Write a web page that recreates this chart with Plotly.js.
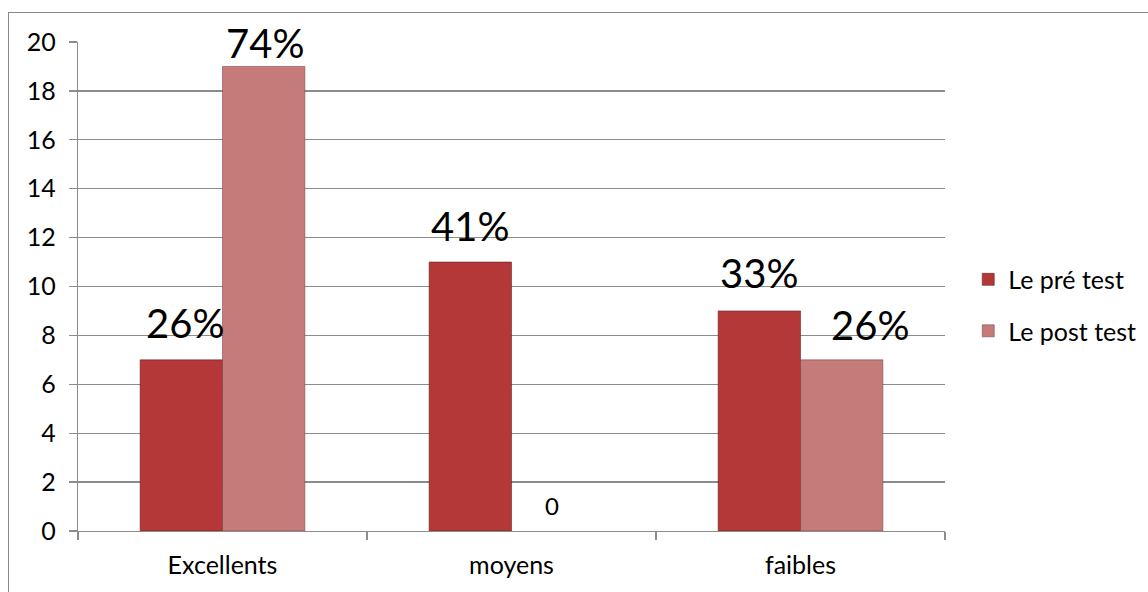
<!DOCTYPE html>
<html>
<head>
<meta charset="utf-8">
<script src="https://cdn.plot.ly/plotly-3.0.1.min.js"></script>
<style>
  html, body { margin: 0; padding: 0; width: 1148px; height: 592px; overflow: hidden; background: #fff; }
  #chart { position: absolute; left: 0; top: 0; width: 1148px; height: 592px; }
  #frame { position: absolute; left: 8px; top: 12px; width: 1300px; height: 800px;
           border: 1.5px solid #8a8a8a; pointer-events: none; }
</style>
</head>
<body>
<div id="chart"></div>
<div id="frame"></div>
<script>
// ---- data ----
const categories = ["Excellents", "moyens", "faibles"];
const seriesNames = ["Le pré test", "Le post test"];
const preValues = [7, 11, 9];
const postValues = [19, 0, 7];
const preLabels = ["26%", "41%", "33%"];
const postLabels = ["74%", "0", "26%"];
const yTickValues = [0, 2, 4, 6, 8, 10, 12, 14, 16, 18, 20];

// ---- label styling (pixel offsets, sizes) ----
const barHalfOffset = 41.25;
const preDx = [3.5, -0.5, -0.5];
const postDx = [1, -0.5, 28];
const preDy = [37, 36, 38];
const postDy = [23.5, 26, 35];
const preSize = [40, 40, 40];
const postSize = [40, 24, 40];
const preLineW = [1, 1, 1];
const postLineW = [1, 0, 1];

const FONT = "Lato, 'Open Sans', sans-serif";

const traces = [
  {
    type: "bar", name: seriesNames[0], x: categories, y: preValues,
    legendgroup: "a",
    marker: { color: "#b43838", line: { color: "rgba(100,25,25,0.55)", width: preLineW } },
    hoverinfo: "skip"
  },
  {
    type: "bar", name: seriesNames[1], x: categories, y: postValues,
    legendgroup: "b",
    marker: { color: "#c67b7b", line: { color: "rgba(110,55,55,0.5)", width: postLineW } },
    hoverinfo: "skip"
  }
];

const annotations = [];
categories.forEach((c, i) => {
  annotations.push({
    x: c, y: preValues[i], xref: "x", yref: "y", text: preLabels[i],
    showarrow: false, xanchor: "center", yanchor: "middle",
    xshift: -barHalfOffset + preDx[i], yshift: preDy[i],
    font: { family: FONT, size: preSize[i], color: "#000" }
  });
  annotations.push({
    x: c, y: postValues[i], xref: "x", yref: "y", text: postLabels[i],
    showarrow: false, xanchor: "center", yanchor: "middle",
    xshift: barHalfOffset + postDx[i], yshift: postDy[i],
    font: { family: FONT, size: postSize[i], color: "#000" }
  });
});

// plot area: 78..945 px horizontally inside a 1070 px wide paper (margin r = 0)
const layout = {
  width: 1148, height: 592,
  margin: { l: 78, r: 0, t: 42, b: 61, pad: 0 },
  paper_bgcolor: "rgba(0,0,0,0)",
  plot_bgcolor: "rgba(0,0,0,0)",
  font: { family: FONT, size: 25, color: "#000" },
  barmode: "group",
  bargap: 0.43,
  bargroupgap: 0,
  showlegend: true,
  legend: {
    x: 0.832, xanchor: "left", y: 0.462, yanchor: "middle",
    font: { family: FONT, size: 25, color: "#000" },
    tracegroupgap: 16, bgcolor: "rgba(0,0,0,0)"
  },
  xaxis: {
    type: "category", domain: [0, 0.8103],
    showline: true, linecolor: "#8c8c8c", linewidth: 1.3,
    ticks: "outside", tickson: "boundaries", ticklen: 8, tickcolor: "#8c8c8c", tickwidth: 1.3,
    showgrid: false, zeroline: false,
    ticklabelstandoff: 12,
    tickfont: { family: FONT, size: 25, color: "#000" },
    fixedrange: true
  },
  yaxis: {
    range: [0, 20], tickvals: yTickValues,
    showline: true, linecolor: "#8c8c8c", linewidth: 1.3,
    ticks: "outside", ticklen: 8, tickcolor: "#8c8c8c", tickwidth: 1.3,
    showgrid: true, gridcolor: "#8c8c8c", gridwidth: 1.3,
    zeroline: false,
    ticklabelstandoff: 8,
    tickfont: { family: FONT, size: 25, color: "#000" },
    fixedrange: true
  },
  annotations: annotations
};

Plotly.newPlot("chart", traces, layout, { staticPlot: true, displayModeBar: false });
</script>
</body>
</html>
